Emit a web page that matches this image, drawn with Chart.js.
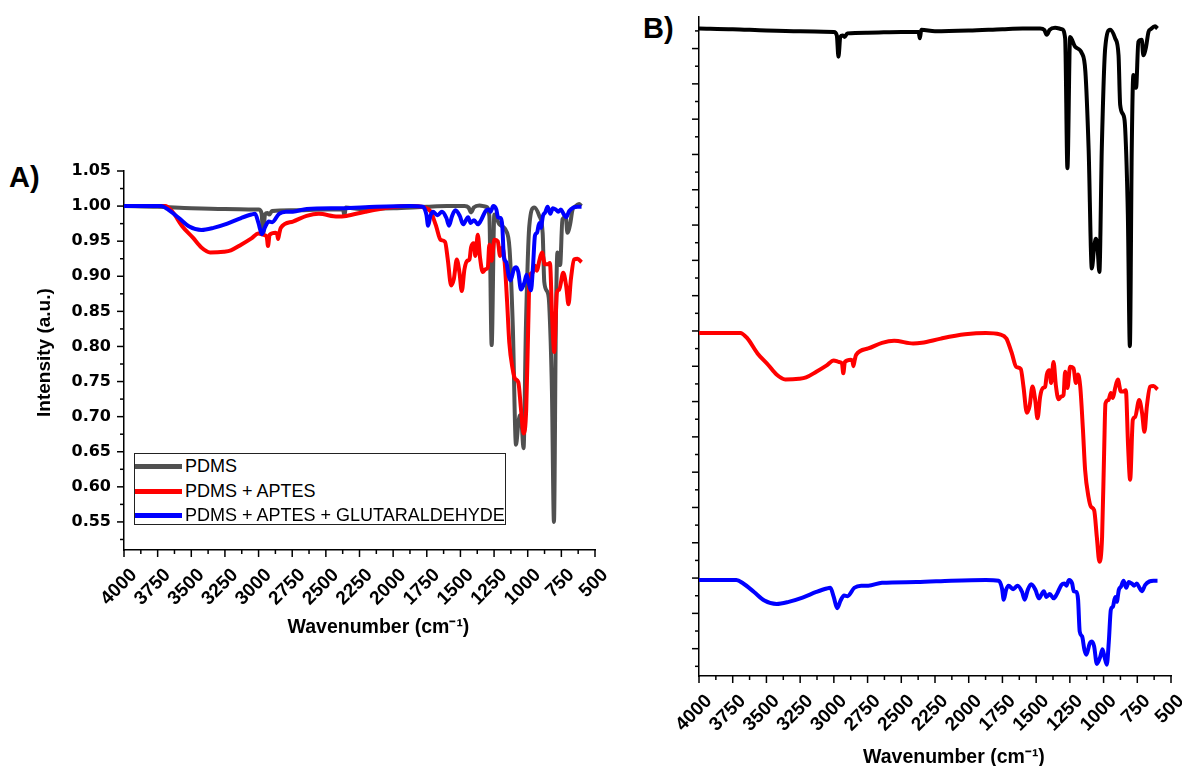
<!DOCTYPE html>
<html>
<head>
<meta charset="utf-8">
<script src="https://cdn.jsdelivr.net/npm/chart.js@4.4.0/dist/chart.umd.min.js"></script>
<style>
  body { margin:0; background:#fff; width:1182px; height:766px; position:relative; overflow:hidden; font-family:"Liberation Sans", Arial, sans-serif; }
  #boxA { position:absolute; left:0; top:130px; width:630px; height:540px; }
  #boxB { position:absolute; left:640px; top:0; width:542px; height:769px; }
  .panel { position:absolute; font-weight:bold; font-size:29px; }
  #legendA { position:absolute; left:134px; top:453px; width:370px; height:70px; border:1px solid #222; background:#fff; }
  #legendA div.row { position:absolute; left:0; height:24px; width:370px; }
  #legendA span.line { position:absolute; left:0; top:10px; width:47px; height:5px; }
  #legendA span.txt { position:absolute; left:50px; top:2px; font-size:18px; line-height:21px; color:#000; }
</style>
</head>
<body>
<div class="panel" style="left:9px;top:161px;">A)</div>
<div class="panel" style="left:643px;top:12px;">B)</div>
<div id="boxA"><canvas id="chartA"></canvas></div>
<div id="boxB"><canvas id="chartB"></canvas></div>
<div id="legendA"></div>
<script>
// series names and colours
const seriesNames = ["PDMS", "PDMS + APTES", "PDMS + APTES + GLUTARALDEHYDE"];
const colorsA = ["#505050", "#ff0000", "#0000ff"];
const colorsB = ["#000000", "#ff0000", "#0000ff"];

// PDMS spectrum (wavenumber, intensity)
const pdmsWn = [4000, 3750, 3500, 3250, 3000, 2978, 2966, 2952, 2935, 2920, 2900, 2750, 2500, 2372, 2362, 2352, 2250, 2000, 1750, 1600, 1470, 1440, 1421, 1400, 1359, 1310, 1285, 1268, 1248, 1211, 1161, 1135, 1111, 1087, 1070, 1057, 1045, 1031, 1013, 988, 951, 914, 889, 877, 852, 840, 820, 805, 791, 779, 759, 742, 717, 705, 685, 667, 650, 618, 600];
const pdmsI = [1.000, 0.999, 0.997, 0.996, 0.995, 0.990, 0.960, 0.988, 0.990, 0.988, 0.993, 0.994, 0.995, 0.995, 0.986, 0.998, 0.996, 0.997, 0.999, 1.000, 1.000, 0.998, 0.991, 0.998, 1.001, 0.999, 0.986, 0.802, 0.988, 0.974, 0.965, 0.939, 0.830, 0.660, 0.690, 0.702, 0.690, 0.655, 0.831, 0.972, 0.998, 0.986, 0.962, 0.892, 0.877, 0.859, 0.736, 0.550, 0.830, 0.934, 0.916, 0.981, 0.984, 0.962, 0.974, 0.995, 0.999, 1.003, 1.000];

// PDMS + APTES
const aptesWn = [4000, 3694, 3644, 3566, 3488, 3425, 3360, 3258, 3206, 3130, 3053, 3001, 2963, 2940, 2930, 2918, 2873, 2862, 2855, 2845, 2835, 2745, 2643, 2553, 2412, 2348, 2207, 2027, 1873, 1770, 1720, 1705, 1680, 1648, 1614, 1594, 1569, 1549, 1527, 1507, 1490, 1470, 1450, 1433, 1421, 1401, 1389, 1371, 1354, 1334, 1314, 1297, 1285, 1268, 1248, 1223, 1205, 1190, 1173, 1153, 1137, 1112, 1094, 1070, 1050, 1031, 1011, 996, 986, 964, 946, 931, 914, 894, 872, 852, 835, 818, 803, 783, 766, 736, 714, 697, 679, 655, 630, 600];
const aptesI = [1.000, 1.000, 0.993, 0.971, 0.955, 0.941, 0.934, 0.935, 0.937, 0.945, 0.954, 0.961, 0.959, 0.957, 0.943, 0.959, 0.962, 0.960, 0.953, 0.962, 0.969, 0.978, 0.986, 0.989, 0.985, 0.986, 0.992, 0.998, 1.000, 0.998, 0.992, 0.985, 0.971, 0.952, 0.949, 0.924, 0.887, 0.896, 0.924, 0.905, 0.879, 0.910, 0.922, 0.924, 0.941, 0.947, 0.929, 0.959, 0.926, 0.906, 0.910, 0.912, 0.945, 0.922, 0.952, 0.950, 0.929, 0.941, 0.924, 0.863, 0.806, 0.768, 0.754, 0.749, 0.711, 0.676, 0.711, 0.830, 0.900, 0.905, 0.915, 0.908, 0.922, 0.934, 0.917, 0.917, 0.919, 0.839, 0.792, 0.877, 0.881, 0.905, 0.886, 0.860, 0.896, 0.924, 0.925, 0.920];

// PDMS + APTES + GLUTARALDEHYDE
const gluWn = [4000, 3723, 3672, 3592, 3515, 3425, 3335, 3232, 3130, 3053, 3026, 3001, 2975, 2950, 2924, 2899, 2848, 2797, 2745, 2643, 2387, 2131, 1873, 1778, 1753, 1740, 1723, 1704, 1671, 1637, 1604, 1585, 1562, 1537, 1505, 1480, 1456, 1443, 1424, 1399, 1370, 1344, 1313, 1290, 1276, 1256, 1233, 1221, 1201, 1189, 1177, 1159, 1142, 1128, 1103, 1086, 1070, 1050, 1025, 1008, 993, 976, 961, 946, 931, 914, 902, 887, 870, 852, 832, 813, 791, 773, 753, 734, 716, 691, 659, 630, 600];
const gluI = [1.000, 1.000, 0.995, 0.983, 0.971, 0.966, 0.969, 0.975, 0.983, 0.988, 0.989, 0.976, 0.960, 0.971, 0.978, 0.977, 0.989, 0.992, 0.992, 0.996, 0.997, 0.999, 1.000, 0.999, 0.988, 0.972, 0.986, 0.992, 0.987, 0.992, 0.983, 0.972, 0.986, 0.994, 0.986, 0.974, 0.981, 0.984, 0.976, 0.980, 0.974, 0.981, 0.993, 0.995, 0.992, 1.000, 0.995, 0.984, 0.983, 0.972, 0.927, 0.920, 0.901, 0.894, 0.910, 0.913, 0.906, 0.881, 0.891, 0.902, 0.891, 0.880, 0.913, 0.958, 0.962, 0.976, 0.969, 0.986, 0.991, 0.999, 0.989, 0.997, 0.995, 0.992, 0.995, 0.989, 0.984, 0.993, 0.998, 0.999, 0.999];

// vertical shift of each spectrum in panel B (stacked view)
const offsetsB = [-0.0215, -0.4528, -0.8027];

const spectra = [[pdmsWn, pdmsI], [aptesWn, aptesI], [gluWn, gluI]];

function points(wn, inten, shift) {
  return wn.map((w, i) => ({ x: w, y: inten[i] + shift }));
}

Chart.defaults.font.family = '"Liberation Sans", Arial, sans-serif';
Chart.defaults.color = '#000';

const isMajorY = v => Math.abs(v * 20 - Math.round(v * 20)) < 1e-6;

// tick marks drawn outside the axes, long for labelled ticks, short for minor ones
const tickMarks = {
  id: 'tickMarks',
  afterDraw(chart) {
    const ctx = chart.ctx, area = chart.chartArea;
    const xs = chart.scales.x, ys = chart.scales.y;
    ctx.save();
    ctx.strokeStyle = '#000';
    ctx.lineWidth = 1.5;
    xs.ticks.forEach(t => {
      const px = xs.getPixelForValue(t.value);
      const len = t.value % 250 === 0 ? 7 : 4;
      ctx.beginPath(); ctx.moveTo(px, area.bottom); ctx.lineTo(px, area.bottom + len); ctx.stroke();
    });
    ys.ticks.forEach(t => {
      const py = ys.getPixelForValue(t.value);
      const len = isMajorY(t.value) ? 7 : 4;
      ctx.beginPath(); ctx.moveTo(area.left - len, py); ctx.lineTo(area.left, py); ctx.stroke();
    });
    ctx.restore();
  }
};

const hiddenGrid = { display: true, drawOnChartArea: false, drawTicks: true, tickLength: 7, tickColor: 'transparent', color: 'transparent' };

// leading spaces nudge the centred title a little right, as in the original
function xAxis(height, titlePad) {
  return {
    type: 'linear', reverse: true, min: 500, max: 4000,
    grid: hiddenGrid,
    border: { display: true, color: '#000', width: 1.5 },
    ticks: {
      stepSize: 125, autoSkip: false, minRotation: 45, maxRotation: 45, padding: 7, labelOffset: 10,
      font: { size: 19, weight: 'bold' },
      callback: v => (v % 250 === 0 ? String(v) : '')
    },
    title: { display: true, text: '       Wavenumber (cm⁻¹)', font: { size: 19.5, weight: 'bold' }, padding: { top: 0, bottom: titlePad } },
    afterFit(s) { s.height = height; s.paddingLeft = 0; s.paddingRight = 0; }
  };
}

function datasets(colors, shifts) {
  return spectra.map((s, i) => ({
    label: seriesNames[i],
    data: points(s[0], s[1], shifts[i]),
    borderColor: colors[i],
    borderWidth: 4,
    pointRadius: 0,
    cubicInterpolationMode: 'monotone',
    order: 3 - i
  }));
}

// panel A
new Chart(document.getElementById('chartA'), {
  type: 'line',
  data: { datasets: datasets(colorsA, [0, 0, 0]) },
  options: {
    responsive: true, maintainAspectRatio: false, animation: false,
    layout: { padding: { left: 0, top: 41, right: 35, bottom: 0 } },
    plugins: { legend: { display: false }, tooltip: { enabled: false } },
    scales: {
      x: xAxis(120, 31),
      y: {
        type: 'linear', min: 0.51, max: 1.05,
        grid: hiddenGrid,
        border: { display: true, color: '#000', width: 1.5 },
        ticks: {
          stepSize: 0.025, includeBounds: false, autoSkip: false, padding: 6,
          font: { family: '"DejaVu Sans", sans-serif', size: 16, weight: 'bold' },
          callback: v => (isMajorY(v) ? v.toFixed(2) : '')
        },
        title: { display: true, text: '   Intensity (a.u.)', font: { size: 19, weight: 'bold' }, padding: { top: 33, bottom: 0 } },
        afterFit(s) { s.width = 124; }
      }
    }
  },
  plugins: [tickMarks]
});

// panel B
new Chart(document.getElementById('chartB'), {
  type: 'line',
  data: { datasets: datasets(colorsB, offsetsB) },
  options: {
    responsive: true, maintainAspectRatio: false, animation: false,
    layout: { padding: { left: 0, top: 17, right: 11, bottom: 0 } },
    plugins: { legend: { display: false }, tooltip: { enabled: false } },
    scales: {
      x: xAxis(93, 0),
      y: {
        type: 'linear', min: 0.0613, max: 0.9947,
        grid: hiddenGrid,
        border: { display: true, color: '#000', width: 1.5 },
        ticks: { stepSize: 0.025, includeBounds: false, autoSkip: false, display: false },
        afterFit(s) { s.width = 59; }
      }
    }
  },
  plugins: [tickMarks]
});

// legend for panel A
const legend = document.getElementById('legendA');
seriesNames.forEach((name, i) => {
  const row = document.createElement('div');
  row.className = 'row';
  row.style.top = (i * 24.5) + 'px';
  row.innerHTML = '<span class="line" style="background:' + colorsA[i] + '"></span><span class="txt">' + name + '</span>';
  legend.appendChild(row);
});
</script>
</body>
</html>
